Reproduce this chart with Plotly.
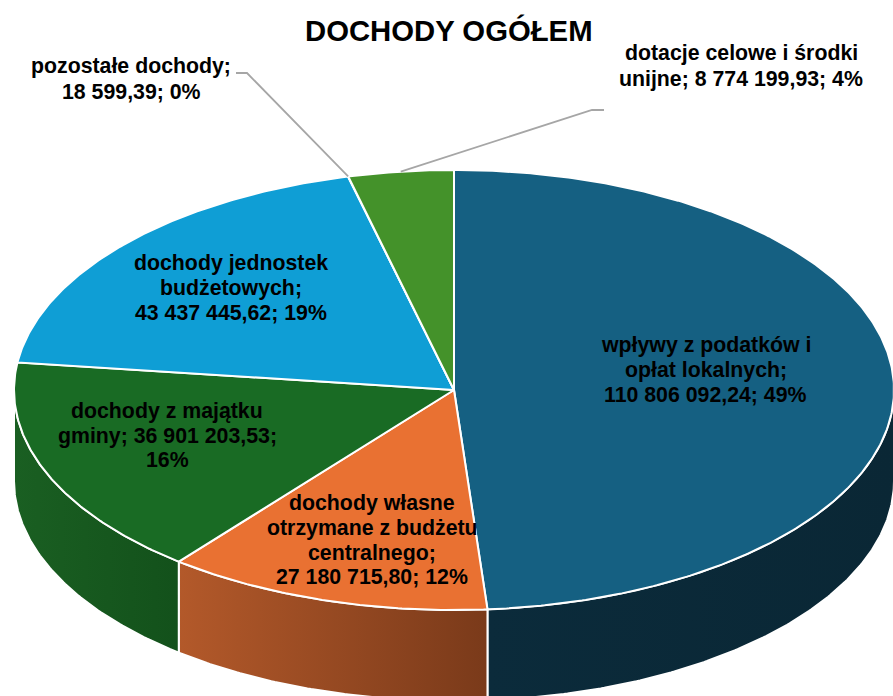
import numpy as np
import plotly.graph_objects as go

categories = ["wpływy z podatków i opłat lokalnych", "dochody własne otrzymane z budżetu centralnego",
              "dochody z majątku gminy", "dochody jednostek budżetowych",
              "pozostałe dochody", "dotacje celowe i środki unijne"]
values = [110806092.24, 27180715.80, 36901203.53, 43437445.62, 18599.39, 8774199.93]
top_colors = ["#156082", "#E97132", "#196B24", "#0F9ED5", "#A02B93", "#44922A"]
wall_left = ["#0B2B3B", "#B3592A", "#1A5F22", "#0F9ED5", "#A02B93", "#44922A"]
wall_right = ["#0A2735", "#7A3A1A", "#13511B", "#0F9ED5", "#A02B93", "#44922A"]

label_lines = [
    ["wpływy z podatków i", "opłat lokalnych;", "110 806 092,24; 49%"],
    ["dochody własne", "otrzymane z budżetu", "centralnego;", "27 180 715,80; 12%"],
    ["dochody z majątku", "gminy; 36 901 203,53;", "16%"],
    ["dochody jednostek", "budżetowych;", "43 437 445,62; 19%"],
    ["pozostałe dochody;", "18 599,39; 0%"],
    ["dotacje celowe i środki", "unijne; 8 774 199,93; 4%"],
]
label_x = [705.5, 372, 167, 231, 131, 741]
label_y = [[345, 370, 395], [503, 528, 553, 577], [411, 436, 460], [263, 288, 313], [66, 91.5], [53, 79]]

title = "DOCHODY OGÓŁEM"
CX, CY, RX, RY, DEPTH = 454, 390, 440, 220, 91
W, H = 893, 696


def arc(a0, a1, dy=0):
    t = np.radians(np.linspace(a0, a1, max(int(abs(a1 - a0) * 2), 2)))
    return CX + RX * np.sin(t), CY - RY * np.cos(t) + dy


angles = np.concatenate([[0], np.cumsum(values) / np.sum(values) * 360])
fig = go.Figure()

# side walls (visible for angles between 90 and 270 degrees)
for i, name in enumerate(categories):
    a0, a1 = max(angles[i], 90), min(angles[i + 1], 270)
    if a1 <= a0:
        continue
    xt, yt = arc(a0, a1)
    xb, yb = arc(a1, a0, DEPTH)
    fig.add_trace(go.Scatter(
        x=np.r_[xt, xb, xt[0]], y=np.r_[yt, yb, yt[0]], mode="lines", fill="toself",
        fillgradient=dict(type="horizontal",
                          colorscale=[[0, wall_left[i]], [1, wall_right[i]]]),
        line=dict(color="white", width=2), hoverinfo="skip", name=name, showlegend=False))

# top face
for i, name in enumerate(categories):
    xa, ya = arc(angles[i], angles[i + 1])
    fig.add_trace(go.Scatter(
        x=np.r_[CX, xa, CX], y=np.r_[CY, ya, CY], mode="lines", fill="toself",
        fillcolor=top_colors[i], line=dict(color="white", width=2),
        name=name, showlegend=False, hoverinfo="name"))

# leader lines
leader_knees = {4: ([247, 236], [73, 73]), 5: ([592, 604], [110, 110])}
for i, (kx, ky) in leader_knees.items():
    xm, ym = arc((angles[i] + angles[i + 1]) / 2, (angles[i] + angles[i + 1]) / 2)
    fig.add_trace(go.Scatter(x=[xm[0]] + kx, y=[ym[0]] + ky, mode="lines",
                             line=dict(color="#A6A6A6", width=1.8),
                             hoverinfo="skip", showlegend=False))

for lines, x, ys in zip(label_lines, label_x, label_y):
    for line, y in zip(lines, ys):
        fig.add_annotation(x=x, y=y, text=line, showarrow=False, xanchor="center", yanchor="middle",
                           font=dict(family="Liberation Sans", size=21.3, color="black", weight="bold"))

fig.add_annotation(x=449, y=30.5, text=title, showarrow=False, xanchor="center", yanchor="middle",
                   font=dict(family="Liberation Sans", size=29.3, color="black", weight="bold"))

fig.update_layout(
    width=W, height=H, margin=dict(l=0, r=0, t=0, b=0),
    paper_bgcolor="white", plot_bgcolor="white", showlegend=False,
    xaxis=dict(visible=False, range=[0, W], fixedrange=True),
    yaxis=dict(visible=False, range=[H, 0], fixedrange=True),
)
fig.write_html("out.html", config=dict(displayModeBar=False),
               post_script="document.body.style.margin='0';document.body.style.overflow='hidden';")
